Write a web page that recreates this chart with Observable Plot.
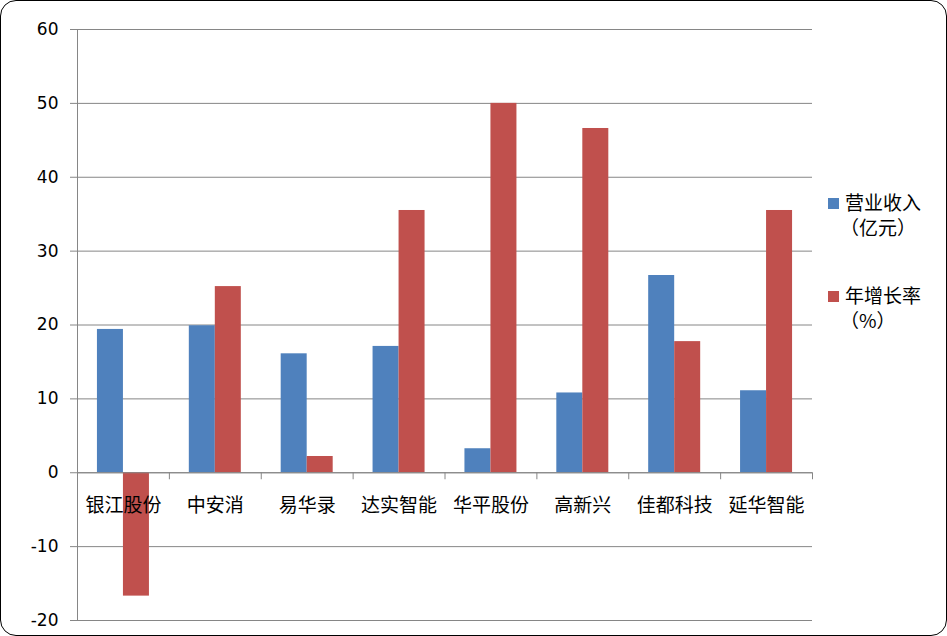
<!DOCTYPE html>
<html>
<head>
<meta charset="utf-8">
<script src="https://cdn.jsdelivr.net/npm/d3@7"></script>
<script src="https://cdn.jsdelivr.net/npm/@observablehq/plot@0.6"></script>
<style>
  html, body { margin: 0; padding: 0; background: #fff; }
  #wrap { position: relative; width: 947px; height: 636px; overflow: hidden; }
  #frame { position: absolute; left: 0; top: 0; width: 947px; height: 636px; box-sizing: border-box;
           border: 1.5px solid #000; border-radius: 16px; pointer-events: none; }
  #chart { position: absolute; left: 0; top: 0; }
  .legend { position: absolute; left: 828px; font-family: "Noto Sans CJK SC", sans-serif; font-size: 19px; color: #000; line-height: 25px; }
  .legend .sw { position: absolute; left: 0; width: 11px; height: 11px; }
  .legend .tx { position: absolute; left: 17px; white-space: nowrap; }
</style>
</head>
<body>
<div id="wrap">
  <div id="chart"></div>
  <div class="legend" id="legend"></div>
  <div id="frame"></div>
</div>
<script>
const companies = ["银江股份", "中安消", "易华录", "达实智能", "华平股份", "高新兴", "佳都科技", "延华智能"];
const revenue = [19.4, 19.9, 16.1, 17.1, 3.25, 10.8, 26.7, 11.1];   // 营业收入（亿元）
const growth  = [-16.7, 25.2, 2.2, 35.5, 50.0, 46.6, 17.75, 35.5];  // 年增长率（%）
const seriesNames = ["营业收入\n（亿元）", "年增长率\n（%）"];
const seriesColors = ["#4F81BD", "#C0504D"];
const yTicks = [-20, -10, 0, 10, 20, 30, 40, 50, 60];

const rows = companies.map((c, i) => ({company: c, revenue: revenue[i], growth: growth[i]}));

const W = 947, H = 636, mL = 77, mR = 135, mT = 29, mB = 16;
const step = (W - mL - mR) / companies.length;
const barW = 26;
const outer = (step - 2 * barW) / 2;
const gray = "#868686";

const chart = Plot.plot({
  width: W, height: H,
  marginLeft: mL, marginRight: mR, marginTop: mT, marginBottom: mB,
  style: {background: "transparent", color: "#000"},
  x: {domain: companies, padding: 0, round: false, axis: null},
  y: {domain: [-20, 60], axis: null},
  marks: [
    Plot.gridY(yTicks, {stroke: gray, strokeOpacity: 1, strokeWidth: 1}),
    Plot.axisY(yTicks, {tickSize: 7, tickPadding: 12, stroke: gray, fill: "#000",
      fontSize: 17, fontFamily: "DejaVu Sans, sans-serif", tickFormat: d => String(d)}),
    Plot.ruleX([companies[0]], {x: d => d, y1: -20, y2: 60, dx: -step / 2, stroke: gray}),
    Plot.barY(rows, {x: "company", y: "revenue", fill: seriesColors[0], insetLeft: outer, insetRight: outer + barW}),
    Plot.barY(rows, {x: "company", y: "growth", fill: seriesColors[1], insetLeft: outer + barW, insetRight: outer}),
    Plot.ruleY([0], {stroke: gray}),
    Plot.ruleX(companies, {x: d => d, y1: 0, y2: 0, insetTop: 7, dx: -step / 2, stroke: gray}),
    Plot.ruleX([companies[companies.length - 1]], {x: d => d, y1: 0, y2: 0, insetTop: 7, dx: step / 2, stroke: gray}),
    Plot.text(rows, {x: "company", y: () => 0, text: "company", dy: 33, fontSize: 19,
      fontFamily: "Noto Sans CJK SC, sans-serif", fill: "#000"})
  ]
});
document.getElementById("chart").appendChild(chart);

const legend = document.getElementById("legend");
const legendTops = [193, 286];
seriesNames.forEach((name, i) => {
  const lines = name.split("\n");
  const sw = document.createElement("div");
  sw.className = "sw";
  sw.style.background = seriesColors[i];
  sw.style.top = (legendTops[i] + 5) + "px";
  legend.appendChild(sw);
  lines.forEach((ln, j) => {
    const t = document.createElement("div");
    t.className = "tx";
    t.textContent = ln;
    t.style.top = (legendTops[i] - 4 + j * 25) + "px";
    if (j > 0) t.style.left = "12px";
    legend.appendChild(t);
  });
});
legend.style.top = "0px";
</script>
</body>
</html>
